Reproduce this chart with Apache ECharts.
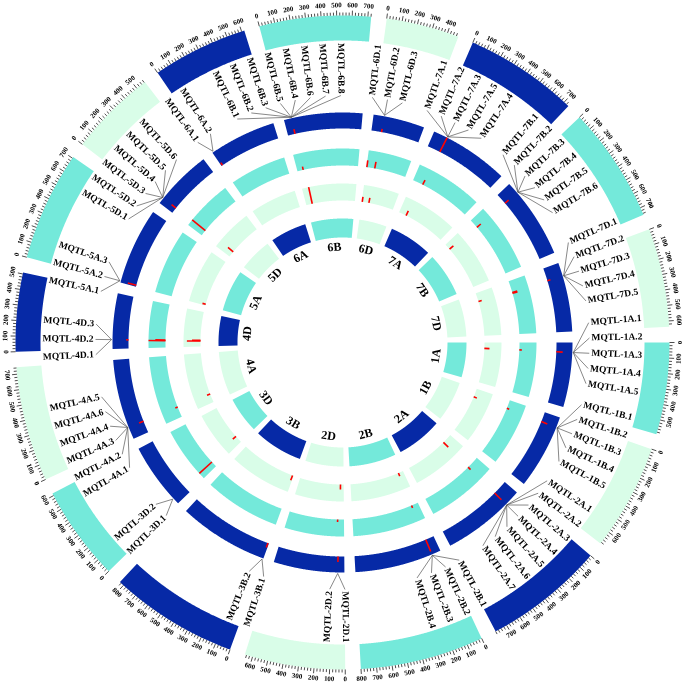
<!DOCTYPE html>
<html>
<head>
<meta charset="utf-8">
<script src="https://cdn.jsdelivr.net/npm/echarts@6/dist/echarts.min.js"></script>
<style>
  html, body { margin: 0; padding: 0; background: #fff; }
  #chart { width: 685px; height: 685px; }
</style>
</head>
<body>
<div id="chart"></div>
<script>
// chromosomes (clockwise from 3 o'clock) and their lengths in Mb
const chromNames = ['1A', '1B', '2A', '2B', '2D', '3B', '3D', '4A', '4D', '5A', '5D', '6A', '6B', '6D', '7A', '7B', '7D'];
const chromLengths = [594, 689, 780, 801, 651, 830, 615, 744, 510, 709, 566, 618, 721, 473, 737, 750, 638];

// MQTL names per chromosome, in clockwise order
const mqtlLabels = [
  ['MQTL-1A.1', 'MQTL-1A.2', 'MQTL-1A.3', 'MQTL-1A.4', 'MQTL-1A.5'],
  ['MQTL-1B.1', 'MQTL-1B.2', 'MQTL-1B.3', 'MQTL-1B.4', 'MQTL-1B.5'],
  ['MQTL-2A.1', 'MQTL-2A.2', 'MQTL-2A.3', 'MQTL-2A.4', 'MQTL-2A.5', 'MQTL-2A.6', 'MQTL-2A.7'],
  ['MQTL-2B.1', 'MQTL-2B.2', 'MQTL-2B.3', 'MQTL-2B.4'],
  ['MQTL-2D.1', 'MQTL-2D.2'],
  ['MQTL-3B.1', 'MQTL-3B.2'],
  ['MQTL-3D.1', 'MQTL-3D.2'],
  ['MQTL-4A.1', 'MQTL-4A.2', 'MQTL-4A.3', 'MQTL-4A.4', 'MQTL-4A.6', 'MQTL-4A.5'],
  ['MQTL-4D.1', 'MQTL-4D.2', 'MQTL-4D.3'],
  ['MQTL-5A.1', 'MQTL-5A.2', 'MQTL-5A.3'],
  ['MQTL-5D.1', 'MQTL-5D.2', 'MQTL-5D.3', 'MQTL-5D.4', 'MQTL-5D.5', 'MQTL-5D.6'],
  ['MQTL-6A.1', 'MQTL-6A.2'],
  ['MQTL-6B.1', 'MQTL-6B.2', 'MQTL-6B.3', 'MQTL-6B.5', 'MQTL-6B.4', 'MQTL-6B.6', 'MQTL-6B.7', 'MQTL-6B.8'],
  ['MQTL-6D.1', 'MQTL-6D.2', 'MQTL-6D.3'],
  ['MQTL-7A.1', 'MQTL-7A.2', 'MQTL-7A.3', 'MQTL-7A.5', 'MQTL-7A.4'],
  ['MQTL-7B.1', 'MQTL-7B.2', 'MQTL-7B.3', 'MQTL-7B.4', 'MQTL-7B.5', 'MQTL-7B.6'],
  ['MQTL-7D.1', 'MQTL-7D.2', 'MQTL-7D.3', 'MQTL-7D.4', 'MQTL-7D.5']
];
// position (Mb) of the MQTL cluster on each chromosome
const mqtlPos = [91, 97, 147, 84, 61, 10, 61, 116, 85, 14, 58, 12, 71, 99, 132, 108, 126];

// peaks of the three data tracks (outer to inner): [chromosome, position Mb, relative height]
const track1Peaks = [
  ['1A', 91, 0.4], ['1B', 97, 0.4], ['2A', 147, 0.6], ['2B', 84, 0.8], ['2D', 61, 0.35],
  ['3B', 10, 0.3], ['4A', 116, 0.3], ['4D', 85, 0.15], ['5A', 14, 0.55], ['5D', 58, 0.35],
  ['6A', 12, 0.2], ['6B', 70, 0.3], ['6D', 100, 0.2], ['7A', 130, 1.0], ['7B', 108, 0.3], ['7D', 126, 0.2]
];
const track2Peaks = [
  ['1A', 87, 0.15], ['1B', 101, 0.15], ['2A', 150, 0.2], ['2B', 81, 0.15], ['2D', 75, 0.15],
  ['3D', 70, 1.0], ['4A', 123, 0.15], ['4D', 80, 1.0], ['4D', 88, 0.6], ['5D', 70, 1.0],
  ['6B', 70, 0.2], ['6D', 5, 0.4], ['6D', 99, 0.4], ['7A', 126, 0.3], ['7B', 108, 0.3],
  ['7D', 140, 0.3], ['7D', 150, 0.3]
];
const track3Peaks = [
  ['1A', 87, 0.3], ['1B', 126, 0.2], ['2A', 147, 0.4], ['2B', 73, 0.2], ['2D', 47, 0.3],
  ['3B', 18, 0.3], ['3D', 109, 0.25], ['4A', 127, 0.2], ['4D', 80, 0.8], ['4D', 90, 0.5],
  ['5A', 18, 0.2], ['5D', 87, 0.4], ['6B', 89, 1.0], ['6D', 8, 0.3], ['6D', 107, 0.3],
  ['7A', 113, 0.3], ['7B', 90, 0.3], ['7D', 126, 0.2]
];

// layout
const GAP = 100;
const chromStart = [];
let total = 0;
chromLengths.forEach(len => { chromStart.push(total); total += len + GAP; });

const DARK = '#0629a6', TEAL = '#74e9da', LIGHT = '#d9fde8';
const cycleColors = [TEAL, LIGHT, DARK];
// rings: outer ideogram, three tracks, inner ideogram  [r0, r1, colour or null for cycle]
const rings = [[302, 327, null], [214, 230, DARK], [177, 194, TEAL], [142, 159, LIGHT], [105, 124, null]];
const FONT = '"Liberation Serif", "Times New Roman", serif';

function arcPoints(api, r0, r1, a0, a1) {
  const pts = [];
  const n = Math.max(2, Math.ceil((a1 - a0) / 4));
  for (let i = 0; i <= n; i++) pts.push(api.coord([r1, a0 + (a1 - a0) * i / n]));
  for (let i = n; i >= 0; i--) pts.push(api.coord([r0, a0 + (a1 - a0) * i / n]));
  return pts;
}
function thetaOf(params, p) {
  return Math.atan2(p[1] - params.coordSys.cy, p[0] - params.coordSys.cx);
}
function tangentRot(theta) {
  return Math.sin(theta) > 0.001 ? -(theta - Math.PI / 2) : -(theta + Math.PI / 2);
}

const ideoData = [];
rings.forEach((_, ri) => chromNames.forEach((_, ci) => ideoData.push([ri, ci])));

const tickData = [];
chromLengths.forEach((len, ci) => { for (let p = 0; p <= len; p += 20) tickData.push([ci, p]); });

const labelData = [];
mqtlLabels.forEach((arr, ci) => arr.forEach((_, k) => labelData.push([ci, k])));

const peakData = [];
[track1Peaks, track2Peaks, track3Peaks].forEach((arr, ti) =>
  arr.forEach(d => peakData.push([ti + 1, chromNames.indexOf(d[0]), d[1], d[2]])));

const labelStep = total * 3.55 / 360;

const option = {
  animation: false,
  backgroundColor: '#fff',
  polar: { center: ['50%', '50%'], radius: [0, 350] },
  angleAxis: {
    type: 'value', min: 0, max: total, startAngle: 0, clockwise: true,
    axisLine: { show: false }, axisTick: { show: false }, axisLabel: { show: false }, splitLine: { show: false }
  },
  radiusAxis: {
    type: 'value', min: 0, max: 350,
    axisLine: { show: false }, axisTick: { show: false }, axisLabel: { show: false }, splitLine: { show: false }
  },
  series: [
    {
      type: 'custom', coordinateSystem: 'polar', silent: true, data: ideoData,
      renderItem: (params, api) => {
        const ri = api.value(0), ci = api.value(1);
        const ring = rings[ri];
        return {
          type: 'polygon',
          shape: { points: arcPoints(api, ring[0], ring[1], chromStart[ci], chromStart[ci] + chromLengths[ci]) },
          style: { fill: ring[2] || cycleColors[ci % 3] }
        };
      }
    },
    {
      // scale ticks on the outer ideogram
      type: 'custom', coordinateSystem: 'polar', silent: true, data: tickData,
      renderItem: (params, api) => {
        const ci = api.value(0), pos = api.value(1);
        const a = chromStart[ci] + pos;
        const major = pos % 100 === 0;
        const p0 = api.coord([327, a]);
        const p1 = api.coord([major ? 332 : 330, a]);
        const children = [{
          type: 'line', shape: { x1: p0[0], y1: p0[1], x2: p1[0], y2: p1[1] },
          style: { stroke: '#000', lineWidth: 0.7 }
        }];
        if (major) {
          const pt = api.coord([337, a]);
          const th = thetaOf(params, pt);
          children.push({
            type: 'text', x: pt[0], y: pt[1], rotation: tangentRot(th),
            style: { text: String(pos), fill: '#000', font: 'bold 7px ' + FONT, align: 'center', verticalAlign: 'middle' }
          });
        }
        return { type: 'group', children };
      }
    },
    {
      // peaks of the data tracks
      type: 'custom', coordinateSystem: 'polar', silent: true, data: peakData,
      renderItem: (params, api) => {
        const ring = rings[api.value(0)];
        const a = chromStart[api.value(1)] + api.value(2);
        const p0 = api.coord([ring[0], a]);
        const p1 = api.coord([ring[0] + (ring[1] - ring[0]) * api.value(3), a]);
        return {
          type: 'line', shape: { x1: p0[0], y1: p0[1], x2: p1[0], y2: p1[1] },
          style: { stroke: '#ff0000', lineWidth: 1.6 }
        };
      }
    },
    {
      // MQTL labels with leader lines
      type: 'custom', coordinateSystem: 'polar', silent: true, data: labelData,
      renderItem: (params, api) => {
        const ci = api.value(0), k = api.value(1);
        const n = mqtlLabels[ci].length;
        const origin = chromStart[ci] + mqtlPos[ci];
        const la = origin + (k - (n - 1) / 2) * labelStep;
        const p0 = api.coord([231, origin]);
        const p1 = api.coord([247, la]);
        const pt = api.coord([249, la]);
        const th = thetaOf(params, pt);
        const right = Math.cos(th) >= 0;
        return {
          type: 'group',
          children: [
            { type: 'line', shape: { x1: p0[0], y1: p0[1], x2: p1[0], y2: p1[1] }, style: { stroke: '#555', lineWidth: 0.7 } },
            {
              type: 'text', x: pt[0], y: pt[1], rotation: right ? -th : Math.PI - th,
              style: { text: mqtlLabels[ci][k], fill: '#000', font: 'bold 9.5px ' + FONT, align: right ? 'left' : 'right', verticalAlign: 'middle' }
            }
          ]
        };
      }
    },
    {
      // chromosome names inside the inner ring
      type: 'custom', coordinateSystem: 'polar', silent: true, data: chromNames.map((_, ci) => [ci, 0]),
      renderItem: (params, api) => {
        const ci = api.value(0);
        const pt = api.coord([95, chromStart[ci] + chromLengths[ci] / 2]);
        const th = thetaOf(params, pt);
        return {
          type: 'text', x: pt[0], y: pt[1], rotation: tangentRot(th),
          style: { text: chromNames[ci], fill: '#000', font: 'bold 12px ' + FONT, align: 'center', verticalAlign: 'middle' }
        };
      }
    }
  ]
};

const chart = echarts.init(document.getElementById('chart'));
chart.setOption(option);
</script>
</body>
</html>
